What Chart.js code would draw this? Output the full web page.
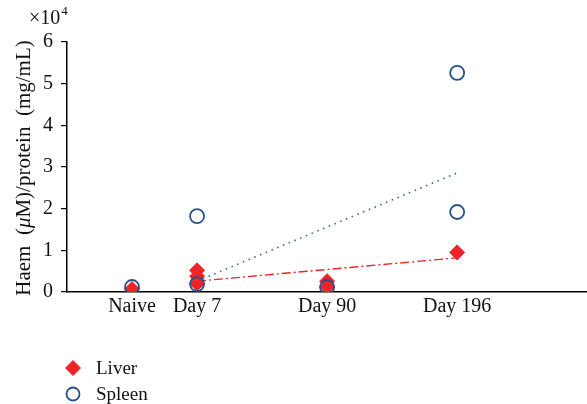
<!DOCTYPE html>
<html>
<head>
<meta charset="utf-8">
<script src="https://cdn.jsdelivr.net/npm/chart.js@4/dist/chart.umd.min.js"></script>
<style>
  html, body { margin: 0; padding: 0; background: #fff; overflow: hidden; }
  #clip { width: 587px; height: 404px; position: relative; overflow: hidden; }
  #wrap { width: 700px; height: 404px; position: relative; }
  canvas { display: block; }
</style>
</head>
<body>
<div id="clip"><div id="wrap"><canvas id="c" width="596" height="404"></canvas></div></div>
<script>
// Time points and where they sit on the x scale
const categories = ['Naive', 'Day 7', 'Day 90', 'Day 196'];
const categoryPos = [0.5, 1, 2, 3];

// Haem per protein, in units of 10^4
const liverX = [0.5, 1, 1, 1, 2, 2, 3];
const liverY = [0.07, 0.52, 0.38, 0.2, 0.26, 0.12, 0.95];
const spleenX = [0.5, 1, 1, 2, 3, 3];
const spleenY = [0.12, 1.82, 0.19, 0.12, 5.26, 1.92];

// Fitted trend lines
const liverTrendX = [1, 3];
const liverTrendY = [0.26, 0.82];
const spleenTrendX = [1, 3];
const spleenTrendY = [0.26, 2.86];

const yTicks = [0, 1, 2, 3, 4, 5, 6];

const RED = '#ee2428';
const BLUE = '#25528a';
const DOT_BLUE = '#3d6aa0';
const FONT = '"Liberation Serif", "DejaVu Serif", serif';
const PAGE_W = 587;
const PAGE_H = 404;

const pts = (xs, ys) => xs.map((x, i) => ({ x: x, y: ys[i] }));

const overlay = {
  id: 'overlay',
  afterDraw(chart) {
    const ctx = chart.ctx;
    const area = chart.chartArea;
    ctx.save();
    ctx.fillStyle = '#111';

    // exponent marker above the y axis
    ctx.font = '20px ' + FONT;
    ctx.textBaseline = 'alphabetic';
    ctx.textAlign = 'left';
    ctx.fillText('\u00d710', 29, 24);
    const w = ctx.measureText('\u00d710').width;
    ctx.font = '13px ' + FONT;
    ctx.fillText('4', 29 + w + 1, 15);

    // rotated y axis title with italic mu
    const parts = [
      { t: 'Haem  (', f: '21px ' + FONT },
      { t: '\u03bc', f: 'italic 21px ' + FONT },
      { t: 'M)/protein  (mg/mL)', f: '21px ' + FONT }
    ];
    let total = 0;
    parts.forEach(p => { ctx.font = p.f; p.w = ctx.measureText(p.t).width; total += p.w; });
    ctx.translate(30, (area.top + area.bottom) / 2 + 1);
    ctx.rotate(-Math.PI / 2);
    let x = -total / 2;
    parts.forEach(p => { ctx.font = p.f; ctx.fillText(p.t, x, 0); x += p.w; });
    ctx.restore();

    // legend
    ctx.save();
    const items = [
      { label: 'Liver', style: 'rectRot', fill: RED, stroke: RED, bw: 1, r: 7.5, y: 368 },
      { label: 'Spleen', style: 'circle', fill: 'rgba(0,0,0,0)', stroke: BLUE, bw: 1.8, r: 6.5, y: 394 }
    ];
    items.forEach(it => {
      ctx.fillStyle = it.fill;
      ctx.strokeStyle = it.stroke;
      ctx.lineWidth = it.bw;
      Chart.helpers.drawPoint(ctx, { pointStyle: it.style, radius: it.r, borderWidth: it.bw }, 73, it.y);
      ctx.fillStyle = '#111';
      ctx.font = '19px ' + FONT;
      ctx.textBaseline = 'middle';
      ctx.fillText(it.label, 96, it.y + 1);
    });
    ctx.restore();
  }
};

const chart = new Chart(document.getElementById('c'), {
  type: 'scatter',
  data: {
    datasets: [
      {
        label: 'Liver trend',
        type: 'line',
        data: pts(liverTrendX, liverTrendY),
        borderColor: RED,
        borderWidth: 1.4,
        borderDash: [9, 3, 2, 3],
        pointRadius: 0,
        fill: false,
        order: 4
      },
      {
        label: 'Spleen trend',
        type: 'line',
        data: pts(spleenTrendX, spleenTrendY),
        borderColor: DOT_BLUE,
        borderWidth: 1.6,
        borderDash: [1.6, 4.6],
        pointRadius: 0,
        fill: false,
        order: 3
      },
      {
        label: 'Liver',
        data: pts(liverX, liverY),
        pointStyle: 'rectRot',
        pointRadius: 7.5,
        pointHoverRadius: 7.5,
        backgroundColor: RED,
        borderColor: RED,
        borderWidth: 1,
        order: 2
      },
      {
        label: 'Spleen',
        data: pts(spleenX, spleenY),
        pointStyle: 'circle',
        pointRadius: 7,
        pointHoverRadius: 7,
        backgroundColor: 'rgba(0,0,0,0)',
        borderColor: BLUE,
        borderWidth: 1.8,
        order: 1
      }
    ]
  },
  options: {
    responsive: false,
    maintainAspectRatio: false,
    animation: false,
    layout: { padding: { left: 0, right: 0, top: 42, bottom: 82 } },
    plugins: {
      legend: { display: false },
      tooltip: { enabled: false }
    },
    scales: {
      x: {
        type: 'linear',
        min: 0,
        max: 4,
        afterBuildTicks: s => { s.ticks = categoryPos.map(v => ({ value: v })); },
        afterFit: s => { s.height = 30; },
        ticks: {
          autoSkip: false,
          maxRotation: 0,
          padding: 3,
          color: '#111',
          font: { family: FONT, size: 20 },
          callback: v => categories[categoryPos.indexOf(v)]
        },
        grid: { display: false, drawTicks: false },
        border: { display: true, color: '#000', width: 1.5 }
      },
      y: {
        min: 0,
        max: 6,
        afterBuildTicks: s => { s.ticks = yTicks.map(v => ({ value: v })); },
        afterFit: s => { s.width = 67; },
        ticks: {
          padding: 8,
          color: '#111',
          font: { family: FONT, size: 20 }
        },
        grid: { drawOnChartArea: false, drawTicks: true, tickLength: 6, color: '#000', lineWidth: 1.2 },
        border: { display: true, color: '#000', width: 1.5 }
      }
    }
  },
  plugins: [overlay]
});

// The x scale keeps a small right margin; size the canvas so the plot
// area runs to the page edge (the clip box hides the extra pixels).
for (let i = 0; i < 4; i++) {
  const gap = Math.round(PAGE_W - chart.chartArea.right);
  if (gap === 0) break;
  chart.resize(chart.width + gap, PAGE_H);
}
</script>
</body>
</html>
